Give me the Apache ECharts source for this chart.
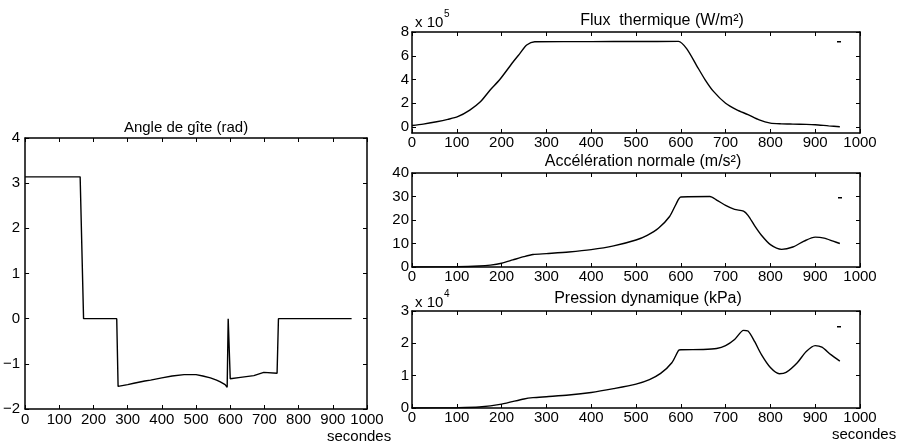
<!DOCTYPE html>
<html>
<head>
<meta charset="utf-8">
<script src="https://cdn.jsdelivr.net/npm/echarts@6/dist/echarts.min.js"></script>
<style>
html,body{margin:0;padding:0;background:#fff;}
#chart{width:901px;height:443px;}
</style>
</head>
<body>
<div id="chart"></div>
<script>
// ---- Data ----
var xTicks = [0,100,200,300,400,500,600,700,800,900,1000];

// Angle de gîte (rad)
var angleT = [0,161,171,268,272,300,318,350,367,400,430,465,500,520,542,560,571,585,591,594,598,600,630,669,698,737,741,955];
var angleV = [3.14,3.14,0,0,-1.50,-1.46,-1.43,-1.38,-1.36,-1.31,-1.27,-1.24,-1.24,-1.27,-1.31,-1.36,-1.40,-1.46,-1.52,0,0,-1.33,-1.30,-1.26,-1.19,-1.21,0,0];
var angleTicks = [-2,-1,0,1,2,3,4];

// Flux thermique (x 10^5 W/m2)
var fluxT = [0,25,55,80,102,129,152,174,196,226,241,256,274,400,500,595,613,635,654,673,700,725,750,775,800,825,850,880,900,930,955];
var fluxV = [0.13,0.25,0.45,0.65,0.87,1.43,2.1,3.1,4.0,5.5,6.2,6.9,7.18,7.19,7.2,7.21,6.6,5.2,4.0,3.0,2.0,1.45,1.05,0.6,0.33,0.27,0.25,0.23,0.2,0.1,0.03];
var fluxTicks = [0,2,4,6,8];

// Accélération normale (m/s2)
var accT = [0,100,150,175,200,225,250,270,300,350,400,450,500,525,550,575,590,600,665,680,700,720,740,750,765,780,800,825,850,875,900,920,940,955];
var accV = [0,0.1,0.4,0.8,1.6,3.0,4.4,5.3,5.7,6.4,7.4,9.0,11.5,13.5,16.5,21.5,27,29.8,30,28.5,26.2,24.5,23.8,22,17.5,13.5,9.5,7.5,8.5,11,12.7,12.3,11,10];
var accTicks = [0,10,20,30,40];

// Pression dynamique (x 10^4 kPa)
var presT = [0,100,150,200,250,270,300,350,400,450,500,530,555,580,595,600,650,680,700,720,740,750,765,780,800,820,835,860,880,900,915,935,955];
var presV = [0,0.01,0.03,0.12,0.28,0.32,0.35,0.4,0.48,0.6,0.74,0.88,1.07,1.4,1.78,1.8,1.81,1.84,1.93,2.12,2.4,2.38,2.05,1.65,1.25,1.06,1.1,1.4,1.75,1.93,1.88,1.65,1.45];
var presTicks = [0,1,2,3];

// ---- Chart ----
var FONT = '"Liberation Sans", Arial, Helvetica, sans-serif';
function pairs(t, v){ return t.map(function(x,i){ return [x, v[i]]; }); }
function fmt(v){ return v < 0 ? '\u2212' + Math.abs(v) : String(v); }

var grids = [
  {left:24, top:138, width:343, height:271},
  {left:412, top:32, width:448, height:101},
  {left:412, top:173, width:448, height:94},
  {left:412, top:311, width:448, height:97}
];
var yCfg = [
  {min:-2, max:4, ticks:angleTicks},
  {min:-0.5, max:8, ticks:fluxTicks},
  {min:0, max:40, ticks:accTicks},
  {min:0, max:3, ticks:presTicks}
];
var lineAxis = {show:true, onZero:false, lineStyle:{color:'#000', width:1.5}};
var tickStyle = {color:'#000', width:1};

var xAxes = [], yAxes = [];
grids.forEach(function(g, gi){
  xAxes.push({
    gridIndex:gi, type:'value', position:'bottom', min:0, max:1000,
    axisLine:lineAxis,
    axisTick:{show:true, inside:true, length:4, lineStyle:tickStyle, customValues:xTicks},
    axisLabel:{show:true, color:'#000', fontSize:15, fontFamily:FONT, margin:gi===0?3:2, customValues:xTicks, formatter:fmt, showMinLabel:true, showMaxLabel:true},
    splitLine:{show:false}
  });
  xAxes.push({
    gridIndex:gi, type:'value', position:'top', min:0, max:1000,
    axisLine:lineAxis,
    axisTick:{show:true, inside:true, length:4, lineStyle:tickStyle, customValues:xTicks},
    axisLabel:{show:false},
    splitLine:{show:false}
  });
  var yc = yCfg[gi];
  yAxes.push({
    gridIndex:gi, type:'value', position:'left', min:yc.min, max:yc.max,
    axisLine:lineAxis,
    axisTick:{show:true, inside:true, length:4, lineStyle:tickStyle, customValues:yc.ticks},
    axisLabel:{show:true, color:'#000', fontSize:15, fontFamily:FONT, margin:gi===0?5:3, customValues:yc.ticks, formatter:fmt, showMinLabel:true, showMaxLabel:true},
    splitLine:{show:false}
  });
  yAxes.push({
    gridIndex:gi, type:'value', position:'right', min:yc.min, max:yc.max,
    axisLine:lineAxis,
    axisTick:{show:true, inside:true, length:4, lineStyle:tickStyle, customValues:yc.ticks},
    axisLabel:{show:false},
    splitLine:{show:false}
  });
});

function mkSeries(name, gi, t, v, smooth){
  return {
    name:name, type:'line', xAxisIndex:gi*2, yAxisIndex:gi*2,
    data:pairs(t, v), showSymbol:false, symbol:'none', smooth:smooth,
    lineStyle:{color:'#000', width:1.4}, itemStyle:{color:'#000'},
    animation:false, silent:true
  };
}
var series = [
  mkSeries('Angle de gîte', 0, angleT, angleV, false),
  mkSeries('Flux thermique', 1, fluxT, fluxV, 0.25),
  mkSeries('Accélération normale', 2, accT, accV, 0.25),
  mkSeries('Pression dynamique', 3, presT, presV, 0.25)
];

function legendAt(name, left, top){
  return {
    data:[name], left:left, top:top, icon:'rect', itemWidth:4, itemHeight:1.5,
    itemGap:0, padding:0, formatter:function(){ return ''; },
    textStyle:{fontSize:1}, selectedMode:false
  };
}

function txt(s, x, y, size, align){
  return {type:'text', x:x, y:y, silent:true,
    style:{text:s, fill:'#000', font:size+'px '+FONT, textAlign:align||'center', textVerticalAlign:'middle'}};
}

var graphics = [
  txt('Angle de gîte (rad)', 186, 128, 15),
  txt('Flux  thermique (W/m\u00B2)', 662, 21, 16),
  txt('Accélération normale (m/s\u00B2)', 643, 162, 16),
  txt('Pression dynamique (kPa)', 648, 299, 16),
  txt('x 10', 415, 23, 15, 'left'),
  txt('5', 444, 14, 10, 'left'),
  txt('x 10', 415, 303, 15, 'left'),
  txt('4', 444, 294, 10, 'left'),
  txt('secondes', 327, 437, 15, 'left'),
  txt('secondes', 832, 435, 15, 'left')
];

var chart = echarts.init(document.getElementById('chart'), null, {renderer:'canvas'});
chart.setOption({
  backgroundColor:'#fff',
  animation:false,
  textStyle:{fontFamily:FONT},
  grid:grids,
  xAxis:xAxes,
  yAxis:yAxes,
  legend:[
    legendAt('Flux thermique', 837, 41),
    legendAt('Accélération normale', 838, 197),
    legendAt('Pression dynamique', 837, 326)
  ],
  series:series,
  graphic:graphics
});
</script>
</body>
</html>
